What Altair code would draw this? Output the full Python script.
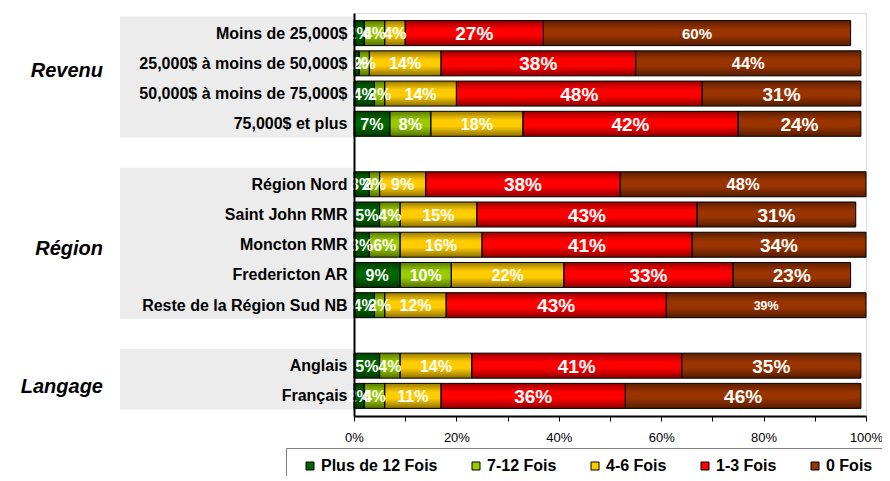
import json
import altair as alt
import pandas as pd

# ---------------- data ----------------
group_names = ["Revenu", "Région", "Langage"]
group_members = [
    ["Moins de 25,000$", "25,000$ à moins de 50,000$", "50,000$ à moins de 75,000$", "75,000$ et plus"],
    ["Région Nord", "Saint John RMR", "Moncton RMR", "Fredericton AR", "Reste de la Région Sud NB"],
    ["Anglais", "Français"],
]
series = ["Plus de 12 Fois", "7-12 Fois", "4-6 Fois", "1-3 Fois", "0 Fois"]
plus_12 = [2, 1, 4, 7, 3, 5, 3, 9, 4, 5, 2]
f_7_12 = [4, 2, 2, 8, 2, 4, 6, 10, 2, 4, 4]
f_4_6 = [4, 14, 14, 18, 9, 15, 16, 22, 12, 14, 11]
f_1_3 = [27, 38, 48, 42, 38, 43, 41, 33, 43, 41, 36]
f_0 = [60, 44, 31, 24, 48, 31, 34, 23, 39, 35, 46]
series_values = [plus_12, f_7_12, f_4_6, f_1_3, f_0]
x_tick_pct = list(range(0, 101, 5))

# ---------------- styles ----------------
colors = ["#006600", "#99cc00", "#ffcc00", "#ff0000", "#993300"]
FONT = "Liberation Sans"
label_size_default = {0: 16, 1: 16, 2: 16, 3: 19, 4: 19}
label_size_override = {
    ("Moins de 25,000$", "0 Fois"): 15,
    ("25,000$ à moins de 50,000$", "0 Fois"): 16.5,
    ("Région Nord", "0 Fois"): 16.5,
    ("Reste de la Région Sud NB", "0 Fois"): 12.5,
}
group_label_dy = {"Revenu": -8, "Région": 4, "Langage": 6}

# ---------------- tables ----------------
categories = [c for m in group_members for c in m]
slot_of = {}
band_rows = []
slot = 0
for g, members in zip(group_names, group_members):
    start = slot
    for m in members:
        slot_of[m] = slot
        slot += 1
    end = slot - 1
    band_rows.append({"group": g, "y0": start - 0.55, "y1": end + 0.45,
                      "mid": (start + end) / 2 + group_label_dy[g] / 31})
    slot += 1
n_slots = slot - 1

rows = []
for j, s in enumerate(series):
    for i, c in enumerate(categories):
        v = series_values[j][i]
        rows.append({
            "category": c,
            "slot": slot_of[c],
            "series": s,
            "sidx": j,
            "value": v / 100,
            "label": f"{v}%",
            "fs": label_size_override.get((c, s), label_size_default[j]),
        })
df = pd.DataFrame(rows)
bands = pd.DataFrame(band_rows)

labels_by_slot = [""] * n_slots
for c, s in slot_of.items():
    labels_by_slot[s] = c
y_label_expr = json.dumps(labels_by_slot, ensure_ascii=False) + "[datum.value]"

y_scale = alt.Scale(domain=[-0.5, n_slots - 0.5], reverse=True, nice=False, zero=False)
x_scale = alt.Scale(domain=[0, 1], nice=False)

base = alt.Chart(df).transform_stack(
    stack="value", groupby=["category"], as_=["x0", "x1"], sort=[alt.SortField("sidx")]
).transform_calculate(mid="(datum.x0 + datum.x1) / 2")

x_axis = alt.Axis(
    values=[p / 100 for p in x_tick_pct],
    labelExpr="round(datum.value*100) % 20 == 0 ? round(datum.value*100) + '%' : ''",
    tickSize=5, tickColor="black", tickWidth=1, domainColor="black", domainWidth=2,
    labelFontSize=13, labelColor="black", labelFont=FONT, labelPadding=10,
    labelFlush=False, grid=False, title=None, zindex=1,
)
y_axis = alt.Axis(
    values=sorted(slot_of.values()), labelExpr=y_label_expr, ticks=False,
    domainColor="black", domainWidth=2, labelFontSize=16, labelFontWeight="bold",
    labelColor="black", labelFont=FONT, labelPadding=7, labelLimit=400,
    grid=False, title=None, zindex=1,
)

band_layer = alt.Chart(bands).mark_rect(color="#ececec").encode(
    x=alt.value(-234), x2=alt.value(0),
    y=alt.Y("y0:Q", scale=y_scale, axis=y_axis), y2="y1:Q",
)

group_text = alt.Chart(bands).mark_text(
    align="right", baseline="middle", fontSize=20, fontStyle="italic",
    fontWeight="bold", font=FONT, color="black",
).encode(x=alt.value(-251), y=alt.Y("mid:Q", scale=y_scale), text="group:N")

bars = base.mark_bar(orient="horizontal", size=25, strokeWidth=0).encode(
    x=alt.X("x0:Q", scale=x_scale, axis=x_axis), x2="x1:Q",
    y=alt.Y("slot:Q", scale=y_scale, axis=y_axis),
    color=alt.Color(
        "series:N",
        scale=alt.Scale(domain=series, range=colors),
        legend=alt.Legend(
            orient="none", legendX=-68, legendY=435, direction="horizontal", columns=5,
            title=None, labelFontSize=16, labelFontWeight="bold", labelFont=FONT,
            labelColor="black", symbolType="square", symbolSize=64,
            symbolStrokeColor="black", symbolStrokeWidth=1, columnPadding=24,
            labelOffset=3, padding=10, strokeColor="#808080", fillColor="white",
            symbolOffset=6,
        ),
    ),
    order=alt.Order("sidx:Q"),
)

shade = alt.Gradient(
    gradient="linear", x1=0, y1=0, x2=0, y2=1,
    stops=[
        alt.GradientStop(offset=0, color="rgba(0,0,0,0.40)"),
        alt.GradientStop(offset=0.35, color="rgba(0,0,0,0)"),
        alt.GradientStop(offset=0.6, color="rgba(0,0,0,0)"),
        alt.GradientStop(offset=1, color="rgba(0,0,0,0.45)"),
    ],
)
overlay = base.mark_bar(orient="horizontal", size=25, fill=shade, stroke="black", strokeWidth=1).encode(
    x=alt.X("x0:Q", scale=x_scale), x2="x1:Q", y=alt.Y("slot:Q", scale=y_scale),
)

texts = base.mark_text(
    align="center", baseline="middle", fontWeight="bold", font=FONT, color="white", dy=1,
).encode(
    x=alt.X("mid:Q", scale=x_scale), y=alt.Y("slot:Q", scale=y_scale),
    text="label:N", size=alt.Size("fs:Q", scale=None),
)

chart = alt.layer(band_layer, group_text, bars, overlay, texts).properties(
    width=512, height=403,
    autosize=alt.AutoSizeParams(type="none"),
    padding={"left": 346, "top": 5, "right": 16, "bottom": 60},
).configure_view(stroke="#808080", strokeWidth=2).configure(font=FONT)

chart.save("out.html", embed_options={"renderer": "svg", "actions": False})
